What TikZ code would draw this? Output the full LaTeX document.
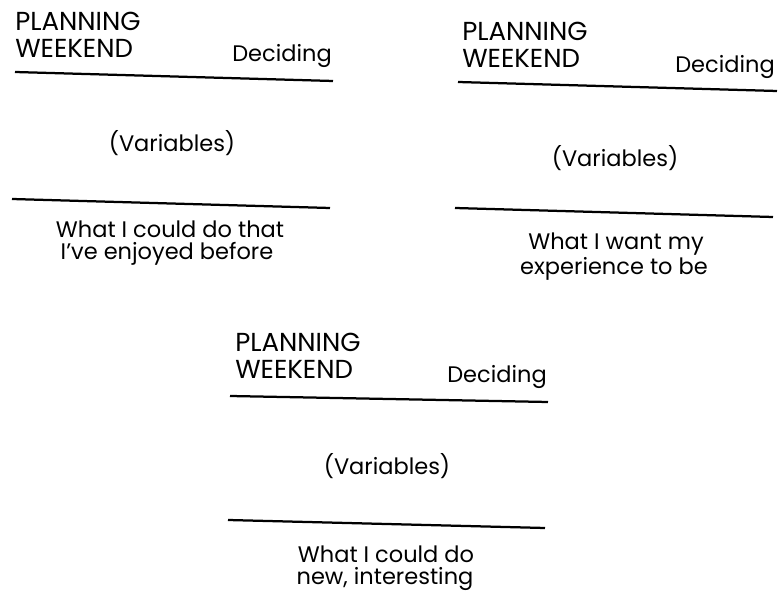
\documentclass[tikz,border=0pt]{standalone}
\usepackage{fontspec}
\setmainfont{Poppins}

\begin{document}
\begin{tikzpicture}[x=0.025cm,y=-0.025cm,
        lbl/.style={inner sep=0pt,font=\fontsize{16}{19}\selectfont},
        caps/.style={lbl,anchor=base west,font=\fontsize{18.5}{22}\selectfont},
        rule/.style={line width=1.6pt}
    ]
        \useasboundingbox (0,0) rectangle (778,596);

        \node[caps] (planA) at (15,31) {PLANNING};
        \node[caps] (wkA) at (15,58) {WEEKEND};
        \node[lbl,anchor=base east] (decA) at (332,62) {Deciding};
        \coordinate (topAl) at (15,72);
        \coordinate (topAr) at (333,81);
        \draw[rule] (topAl) -- (topAr);
        \node[lbl,anchor=base] (varA) at (172,152) {(Variables)};
        \coordinate (botAl) at (12,199);
        \coordinate (botAr) at (330,208);
        \draw[rule] (botAl) -- (botAr);
        \node[lbl,anchor=base] (whatA) at (170,238) {What I could do that};
        \node[lbl,anchor=base] (whatAb) at (167,260) {I’ve enjoyed before};

        \node[caps] (planB) at (462,41) {PLANNING};
        \node[caps] (wkB) at (462,68) {WEEKEND};
        \node[lbl,anchor=base east] (decB) at (775,73) {Deciding};
        \coordinate (topBl) at (458,82);
        \coordinate (topBr) at (777,91);
        \draw[rule] (topBl) -- (topBr);
        \node[lbl,anchor=base] (varB) at (615,167) {(Variables)};
        \coordinate (botBl) at (455,208);
        \coordinate (botBr) at (773,217);
        \draw[rule] (botBl) -- (botBr);
        \node[lbl,anchor=base] (whatB) at (616,250) {What I want my};
        \node[lbl,anchor=base] (whatBb) at (614,275) {experience to be};

        \node[caps] (planC) at (235,352) {PLANNING};
        \node[caps] (wkC) at (235,379) {WEEKEND};
        \node[lbl,anchor=base east] (decC) at (547,383) {Deciding};
        \coordinate (topCl) at (230,396);
        \coordinate (topCr) at (548,402);
        \draw[rule] (topCl) -- (topCr);
        \node[lbl,anchor=base] (varC) at (387,475) {(Variables)};
        \coordinate (botCl) at (228,520);
        \coordinate (botCr) at (545,528);
        \draw[rule] (botCl) -- (botCr);
        \node[lbl,anchor=base] (whatC) at (386,563) {What I could do};
        \node[lbl,anchor=base] (whatCb) at (385,585) {new, interesting};
    \end{tikzpicture}
\end{document}
